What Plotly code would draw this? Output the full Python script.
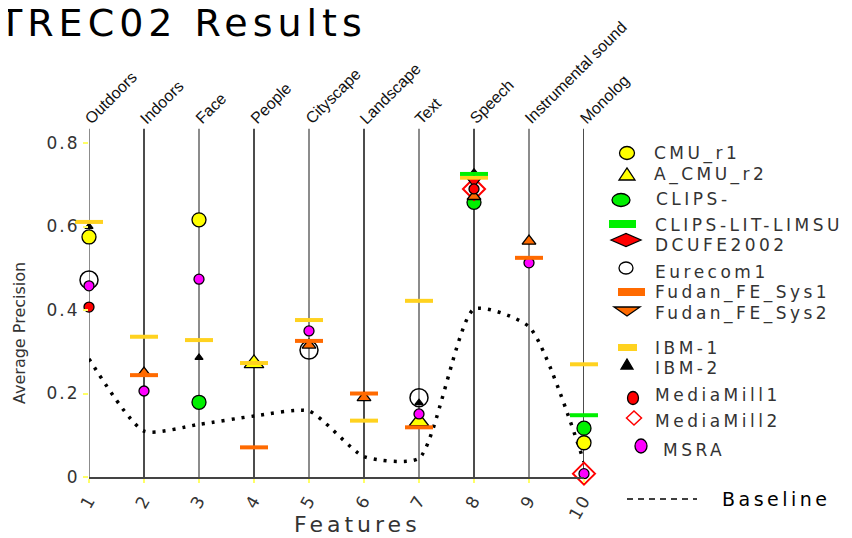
import plotly.graph_objects as go

# ---------------- data ----------------
features = [1, 2, 3, 4, 5, 6, 7, 8, 9, 10]
categories = ["Outdoors", "Indoors", "Face", "People", "Cityscape", "Landscape",
              "Text", "Speech", "Instrumental sound", "Monolog"]
x_tick_labels = ["1", "2", "3", "4", "5", "6", "7", "8", "9", "10"]
y_tick_vals = [0, 0.2, 0.4, 0.6, 0.8]
y_tick_labels = ["0", "0.2", "0.4", "0.6", "0.8"]

N = None
cmu_r1 = [0.575, N, 0.616, N, N, N, N, N, N, 0.082]
a_cmu_r2 = [N, N, N, 0.272, N, N, 0.133, N, N, N]
clips = [N, N, 0.179, N, N, N, N, 0.658, N, 0.117]
clips_lit_limsu = [N, N, N, N, N, N, N, 0.726, N, 0.148]
dcufe2002 = [N, N, N, N, N, N, N, 0.709, N, N]
eurecom1 = [0.472, N, N, N, 0.304, N, 0.190, N, N, N]
fudan_sys1 = [N, 0.244, N, 0.071, 0.326, 0.200, 0.119, N, 0.525, N]
fudan_sys2 = [N, 0.249, N, N, 0.316, 0.190, N, 0.672, 0.565, N]
ibm1 = [0.611, 0.336, 0.328, 0.273, 0.376, 0.135, 0.422, 0.717, N, 0.270]
ibm2 = [0.600, N, 0.286, N, N, N, 0.178, 0.730, N, N]
mediamill1 = [0.407, N, N, N, N, N, N, 0.690, N, N]
mediamill2 = [N, N, N, N, N, N, N, 0.690, N, 0.008]
msra = [0.458, 0.206, 0.474, N, 0.350, N, 0.151, N, 0.513, 0.008]
baseline = [0.283, 0.110, 0.126, 0.146, 0.158, 0.049, 0.045, 0.402, 0.360, 0.036]

legend_names = ["CMU_r1", "A_CMU_r2", "CLIPS-", "CLIPS-LIT-LIMSU", "DCUFE2002",
                "Eurecom1", "Fudan_FE_Sys1", "Fudan_FE_Sys2", "IBM-1", "IBM-2",
                "MediaMill1", "MediaMill2", "MSRA"]

# ---------------- styling ----------------
OFF = 8                 # page body margin in the browser
W, H = 852 - OFF, 538 - OFF
YELLOW = "#FFFF00"
GOLD = "#FFD21F"
GREEN = "#00F000"
ORANGE = "#FF6A00"
RED = "#FF0000"
MAGENTA = "#FF00FF"
TXT = "#333333"


def px(x):
    """screen pixel x -> paper fraction"""
    return (x - OFF) / W


def py(y):
    """screen pixel y -> paper fraction"""
    return (H - (y - OFF)) / H


def spaced(t, ls):
    return '<span style="letter-spacing:%spx">%s</span>' % (ls, t)


fig = go.Figure()

# baseline (smoothed dotted line)
fig.add_trace(go.Scatter(x=features, y=baseline, mode="lines", name="Baseline",
                         line=dict(color="black", width=3.5, dash="3px,7px",
                                   shape="spline", smoothing=0.6),
                         cliponaxis=False, showlegend=False))


def add_markers(vals, name, symbol, size, color, lcolor="black", lwidth=1.3):
    fig.add_trace(go.Scatter(
        x=features, y=vals, mode="markers", name=name, cliponaxis=False,
        showlegend=False,
        marker=dict(symbol=symbol, size=size, color=color,
                    line=dict(color=lcolor, width=lwidth))))


add_markers(eurecom1, "Eurecom1", "circle-open", 18, "black", "black", 1.5)
add_markers(cmu_r1, "CMU_r1", "circle", 14, YELLOW)
add_markers(a_cmu_r2, "A_CMU_r2", "triangle-up", 17, YELLOW)
add_markers(clips, "CLIPS-", "circle", 14, GREEN)
add_markers(ibm2, "IBM-2", "triangle-up", 7, "black")
add_markers(mediamill2, "MediaMill2", "diamond-open", 17, RED, RED, 2)
add_markers(dcufe2002, "DCUFE2002", "triangle-down", 12, RED)
add_markers(fudan_sys2, "Fudan_FE_Sys2", "triangle-up", 12, ORANGE)
add_markers(mediamill1, "MediaMill1", "circle", 10, RED)
add_markers(msra, "MSRA", "circle", 10, MAGENTA)
add_markers(ibm1, "IBM-1", "line-ew", 20, GOLD, GOLD, 4)
add_markers(fudan_sys1, "Fudan_FE_Sys1", "line-ew", 20, ORANGE, ORANGE, 4)
add_markers(clips_lit_limsu, "CLIPS-LIT-LIMSU", "line-ew", 20, GREEN, GREEN, 4)

shapes = []
annotations = []

# vertical feature lines + rotated category labels
for i, (f, cat) in enumerate(zip(features, categories)):
    shapes.append(dict(type="line", xref="x", yref="y", x0=f, x1=f, y0=0, y1=0.834,
                       line=dict(color="#666666" if i % 2 == 0 else "#111111", width=1.5),
                       layer="below"))
    annotations.append(dict(xref="x", yref="y", x=f, y=0.834, text=cat, showarrow=False,
                            textangle=-45, xanchor="left", yanchor="bottom",
                            xshift=-10, yshift=-1,
                            font=dict(family="Liberation Sans, Arial", size=16, color="#111111")))

# title
annotations.append(dict(xref="paper", yref="paper", x=px(-4), y=py(23), xanchor="left",
                        yanchor="middle", showarrow=False, text=spaced("TREC02 Results", 5),
                        font=dict(family="DejaVu Sans", size=38, color="black")))
# axis titles
annotations.append(dict(xref="paper", yref="paper", x=px(357), y=py(524), xanchor="center",
                        yanchor="middle", showarrow=False, text=spaced("Features", 4),
                        font=dict(family="DejaVu Sans", size=22, color=TXT)))
annotations.append(dict(xref="paper", yref="paper", x=px(19), y=py(333), xanchor="center",
                        yanchor="middle", showarrow=False, text="Average Precision",
                        textangle=-90,
                        font=dict(family="DejaVu Sans", size=16, color=TXT)))

# ---------------- custom legend ----------------
def ellipse(cx, cy, w, h, fill, line="black", lw=1.3):
    shapes.append(dict(type="circle", xref="paper", yref="paper",
                       x0=px(cx - w / 2), x1=px(cx + w / 2), y0=py(cy + h / 2), y1=py(cy - h / 2),
                       fillcolor=fill, line=dict(color=line, width=lw)))


def rect(x0, x1, y0, y1, fill):
    shapes.append(dict(type="rect", xref="paper", yref="paper",
                       x0=px(x0), x1=px(x1), y0=py(y1), y1=py(y0),
                       fillcolor=fill, line=dict(width=0)))


def poly(pts, fill, line="black", lw=1.3):
    path = "M " + " L ".join("%f,%f" % (px(a), py(b)) for a, b in pts) + " Z"
    shapes.append(dict(type="path", xref="paper", yref="paper", path=path,
                       fillcolor=fill, line=dict(color=line, width=lw)))


ellipse(627, 153, 15, 13, YELLOW)
poly([(619, 180), (635, 180), (627, 168)], YELLOW)
ellipse(621, 200, 18, 13, GREEN)
rect(609, 636, 220, 228, GREEN)
poly([(611, 240), (626, 233.5), (641, 240), (626, 246.5)], RED)
ellipse(626, 268, 14, 12, "white")
rect(618, 645, 288, 296, ORANGE)
poly([(614, 307), (640, 307), (627, 316)], ORANGE)
rect(618, 637, 344, 351, GOLD)
poly([(621, 369), (633, 369), (627, 359)], "black")
ellipse(633, 398, 11, 13, RED)
poly([(626.5, 418), (634, 411), (641.5, 418), (634, 425)], "rgba(0,0,0,0)", RED, 1.5)
ellipse(641, 446, 12, 14, MAGENTA)
shapes.append(dict(type="line", xref="paper", yref="paper", x0=px(627), x1=px(697),
                   y0=py(499), y1=py(499), line=dict(color="black", width=1.5, dash="6px,5px")))

legend_text_x = [652, 652, 654, 653, 653, 653, 653, 653, 653, 653, 653, 653, 661]
legend_text_y = [153, 174, 199, 225, 245, 272, 292, 313, 348, 368, 395, 421, 450]
for name, tx, ty in zip(legend_names, legend_text_x, legend_text_y):
    annotations.append(dict(xref="paper", yref="paper", x=px(tx), y=py(ty), xanchor="left",
                            yanchor="middle", showarrow=False, text=spaced(name, 3.5),
                            font=dict(family="DejaVu Sans", size=17, color=TXT)))
annotations.append(dict(xref="paper", yref="paper", x=px(720), y=py(499), xanchor="left",
                        yanchor="middle", showarrow=False, text=spaced("Baseline", 3.5),
                        font=dict(family="DejaVu Sans", size=19, color="black")))

fig.update_layout(
    width=W, height=H, autosize=False,
    margin=dict(l=0, r=0, t=0, b=0, pad=0),
    paper_bgcolor="white", plot_bgcolor="rgba(0,0,0,0)",
    showlegend=False,
    shapes=shapes, annotations=annotations,
    xaxis=dict(domain=[px(89), px(584)], range=[1, 10], tickmode="array", automargin=False,
               tickvals=features, ticktext=[spaced(t, 2) for t in x_tick_labels],
               tickangle=-60, ticks="outside", ticklen=4, tickcolor="#FFFF66", tickwidth=2,
               showline=True, linecolor="#444444", linewidth=1.5, showgrid=False,
               zeroline=False, tickfont=dict(family="DejaVu Sans", size=17, color=TXT)),
    yaxis=dict(domain=[py(477), py(118)], range=[0, 0.86], tickmode="array", automargin=False,
               tickvals=y_tick_vals, ticktext=[spaced(t, 2) for t in y_tick_labels],
               ticks="outside", ticklen=5, tickcolor="#FFFF66", tickwidth=2,
               showline=False, showgrid=False, zeroline=False,
               tickfont=dict(family="DejaVu Sans", size=17, color=TXT)),
)

fig.write_html("out.html")
